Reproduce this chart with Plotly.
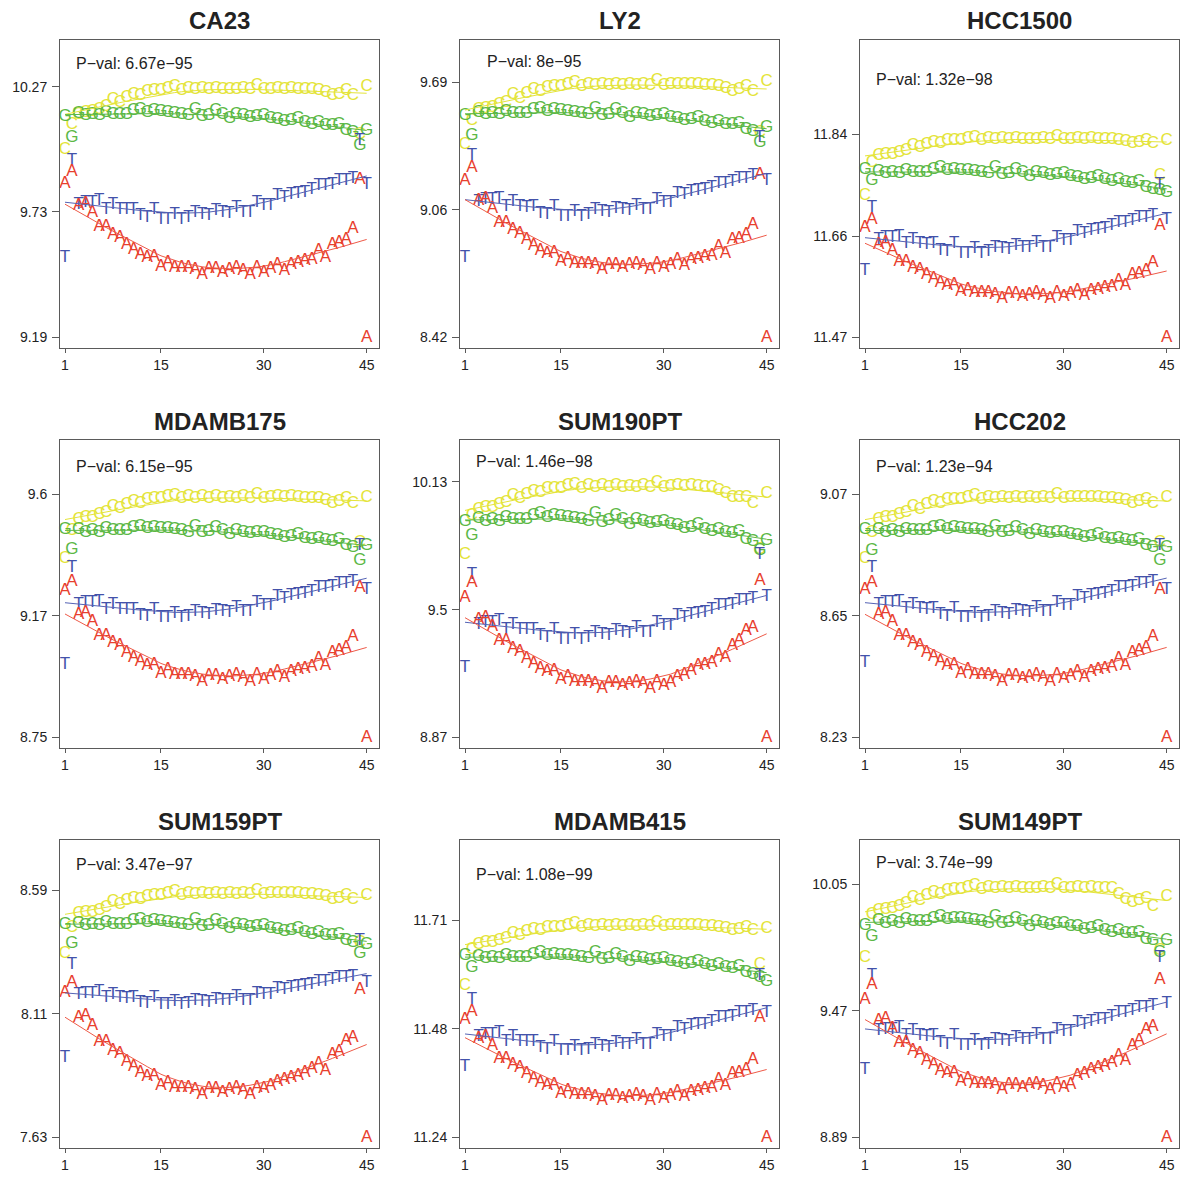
import numpy as np
import plotly.graph_objects as go

# ---------------- data ----------------
panel_names = ["CA23", "LY2", "HCC1500", "MDAMB175", "SUM190PT", "HCC202",
               "SUM159PT", "MDAMB415", "SUM149PT"]
p_values = ["6.67e\u221295", "8e\u221295", "1.32e\u221298", "6.15e\u221295", "1.46e\u221298",
            "1.23e\u221294", "3.47e\u221297", "1.08e\u221299", "3.74e\u221299"]
positions = list(range(1, 46))
x_tick_vals = [1, 15, 30, 45]
y_tick_vals = [[9.19, 9.73, 10.27], [8.42, 9.055, 9.69], [11.47, 11.655, 11.84],
               [8.75, 9.175, 9.6], [8.87, 9.5, 10.13], [8.23, 8.65, 9.07],
               [7.63, 8.11, 8.59], [11.24, 11.475, 11.71], [8.89, 9.47, 10.05]]
y_tick_text = [["9.19", "9.73", "10.27"], ["8.42", "9.06", "9.69"], ["11.47", "11.66", "11.84"],
               ["8.75", "9.17", "9.6"], ["8.87", "9.5", "10.13"], ["8.23", "8.65", "9.07"],
               ["7.63", "8.11", "8.59"], ["11.24", "11.48", "11.71"], ["8.89", "9.47", "10.05"]]

CA23_A = [9.852, 9.902, 9.758, 9.767, 9.726, 9.665, 9.665, 9.633, 9.619, 9.590, 9.568, 9.547, 9.532, 9.537, 9.496, 9.511, 9.489, 9.489, 9.489, 9.482, 9.460, 9.485, 9.485, 9.470, 9.482, 9.489, 9.479, 9.460, 9.489, 9.470, 9.485, 9.503, 9.479, 9.503, 9.511, 9.518, 9.525, 9.561, 9.532, 9.590, 9.597, 9.611, 9.657, 9.871, 9.190]
CA23_T = [9.532, 9.949, 9.762, 9.770, 9.770, 9.777, 9.741, 9.762, 9.741, 9.738, 9.741, 9.712, 9.705, 9.741, 9.698, 9.698, 9.719, 9.698, 9.705, 9.726, 9.719, 9.715, 9.734, 9.726, 9.724, 9.748, 9.726, 9.726, 9.770, 9.758, 9.758, 9.798, 9.791, 9.805, 9.810, 9.813, 9.824, 9.841, 9.841, 9.849, 9.863, 9.863, 9.873, 10.036, 9.849]
CA23_C = [10.000, 10.107, 10.151, 10.158, 10.161, 10.172, 10.184, 10.215, 10.201, 10.222, 10.237, 10.230, 10.247, 10.251, 10.251, 10.261, 10.270, 10.251, 10.261, 10.256, 10.261, 10.256, 10.261, 10.256, 10.258, 10.256, 10.261, 10.256, 10.276, 10.256, 10.258, 10.261, 10.258, 10.261, 10.258, 10.256, 10.256, 10.251, 10.244, 10.230, 10.237, 10.251, 10.230, 10.064, 10.270]
CA23_G = [10.142, 10.051, 10.155, 10.143, 10.151, 10.143, 10.158, 10.151, 10.151, 10.151, 10.165, 10.172, 10.158, 10.165, 10.161, 10.158, 10.155, 10.151, 10.143, 10.172, 10.141, 10.146, 10.165, 10.151, 10.132, 10.151, 10.143, 10.136, 10.141, 10.143, 10.132, 10.129, 10.118, 10.122, 10.132, 10.115, 10.107, 10.115, 10.103, 10.100, 10.107, 10.079, 10.071, 10.014, 10.079]

LY2_A = [9.197, 9.263, 9.097, 9.107, 9.061, 8.989, 8.989, 8.953, 8.936, 8.903, 8.878, 8.853, 8.837, 8.842, 8.795, 8.812, 8.787, 8.787, 8.787, 8.779, 8.754, 8.782, 8.782, 8.765, 8.779, 8.787, 8.775, 8.754, 8.787, 8.765, 8.782, 8.804, 8.775, 8.804, 8.812, 8.820, 8.828, 8.870, 8.837, 8.903, 8.911, 8.928, 8.981, 9.230, 8.420]
LY2_T = [8.815, 9.321, 9.094, 9.102, 9.102, 9.111, 9.069, 9.094, 9.069, 9.066, 9.069, 9.036, 9.028, 9.069, 9.019, 9.019, 9.044, 9.019, 9.028, 9.053, 9.044, 9.039, 9.061, 9.053, 9.049, 9.077, 9.053, 9.053, 9.102, 9.089, 9.089, 9.136, 9.127, 9.144, 9.149, 9.152, 9.165, 9.185, 9.185, 9.194, 9.210, 9.210, 9.222, 9.413, 9.197]
LY2_C = [9.379, 9.496, 9.550, 9.559, 9.562, 9.575, 9.589, 9.625, 9.609, 9.634, 9.650, 9.642, 9.662, 9.667, 9.667, 9.678, 9.688, 9.667, 9.678, 9.672, 9.678, 9.672, 9.678, 9.672, 9.675, 9.672, 9.678, 9.672, 9.695, 9.672, 9.675, 9.678, 9.675, 9.678, 9.675, 9.672, 9.672, 9.667, 9.658, 9.642, 9.650, 9.667, 9.642, 9.438, 9.690]
LY2_G = [9.521, 9.421, 9.539, 9.526, 9.534, 9.526, 9.542, 9.534, 9.534, 9.534, 9.551, 9.559, 9.542, 9.551, 9.546, 9.542, 9.539, 9.534, 9.526, 9.559, 9.522, 9.529, 9.551, 9.534, 9.512, 9.534, 9.526, 9.517, 9.522, 9.526, 9.512, 9.509, 9.496, 9.501, 9.512, 9.492, 9.484, 9.492, 9.479, 9.476, 9.484, 9.451, 9.443, 9.388, 9.462]

HCC1500_A = [11.670, 11.685, 11.639, 11.642, 11.629, 11.609, 11.609, 11.598, 11.593, 11.584, 11.577, 11.570, 11.565, 11.566, 11.553, 11.558, 11.551, 11.551, 11.551, 11.548, 11.541, 11.549, 11.549, 11.544, 11.548, 11.551, 11.547, 11.541, 11.551, 11.544, 11.549, 11.555, 11.547, 11.555, 11.558, 11.560, 11.562, 11.574, 11.565, 11.584, 11.586, 11.591, 11.606, 11.673, 11.470]
HCC1500_T = [11.591, 11.706, 11.648, 11.651, 11.651, 11.654, 11.640, 11.648, 11.640, 11.639, 11.640, 11.629, 11.626, 11.640, 11.623, 11.623, 11.632, 11.623, 11.626, 11.634, 11.632, 11.630, 11.637, 11.634, 11.633, 11.643, 11.634, 11.634, 11.651, 11.647, 11.647, 11.662, 11.660, 11.665, 11.667, 11.668, 11.673, 11.679, 11.679, 11.682, 11.688, 11.688, 11.692, 11.749, 11.685]
HCC1500_C = [11.728, 11.789, 11.801, 11.803, 11.803, 11.807, 11.810, 11.819, 11.815, 11.821, 11.825, 11.823, 11.828, 11.829, 11.829, 11.832, 11.834, 11.829, 11.832, 11.830, 11.832, 11.830, 11.832, 11.830, 11.831, 11.830, 11.832, 11.830, 11.836, 11.830, 11.831, 11.832, 11.831, 11.832, 11.831, 11.830, 11.830, 11.829, 11.827, 11.823, 11.825, 11.829, 11.823, 11.765, 11.828]
HCC1500_G = [11.776, 11.755, 11.772, 11.768, 11.770, 11.768, 11.773, 11.770, 11.770, 11.770, 11.776, 11.779, 11.773, 11.776, 11.774, 11.773, 11.772, 11.770, 11.768, 11.779, 11.767, 11.769, 11.776, 11.770, 11.763, 11.770, 11.768, 11.765, 11.767, 11.768, 11.763, 11.762, 11.758, 11.759, 11.763, 11.757, 11.754, 11.757, 11.752, 11.751, 11.754, 11.743, 11.740, 11.737, 11.734]

MDAMB175_A = [9.262, 9.293, 9.180, 9.187, 9.155, 9.106, 9.106, 9.081, 9.070, 9.047, 9.030, 9.013, 9.002, 9.005, 8.974, 8.985, 8.968, 8.968, 8.968, 8.962, 8.945, 8.965, 8.965, 8.953, 8.962, 8.968, 8.960, 8.945, 8.968, 8.953, 8.965, 8.979, 8.960, 8.979, 8.985, 8.991, 8.996, 9.025, 9.002, 9.047, 9.053, 9.064, 9.101, 9.273, 8.750]
MDAMB175_T = [9.005, 9.343, 9.214, 9.220, 9.220, 9.225, 9.198, 9.214, 9.198, 9.196, 9.198, 9.177, 9.172, 9.198, 9.167, 9.167, 9.183, 9.167, 9.172, 9.188, 9.183, 9.180, 9.193, 9.188, 9.186, 9.204, 9.188, 9.188, 9.220, 9.211, 9.211, 9.241, 9.235, 9.246, 9.249, 9.251, 9.259, 9.272, 9.272, 9.277, 9.288, 9.288, 9.295, 9.419, 9.267]
MDAMB175_C = [9.375, 9.472, 9.512, 9.517, 9.519, 9.527, 9.536, 9.558, 9.548, 9.563, 9.573, 9.568, 9.580, 9.583, 9.583, 9.590, 9.596, 9.583, 9.590, 9.586, 9.590, 9.586, 9.590, 9.586, 9.588, 9.586, 9.590, 9.586, 9.600, 9.586, 9.588, 9.590, 9.588, 9.590, 9.588, 9.586, 9.586, 9.583, 9.578, 9.568, 9.573, 9.583, 9.568, 9.431, 9.589]
MDAMB175_G = [9.475, 9.405, 9.476, 9.467, 9.473, 9.467, 9.478, 9.473, 9.473, 9.473, 9.483, 9.488, 9.478, 9.483, 9.480, 9.478, 9.476, 9.473, 9.467, 9.488, 9.465, 9.469, 9.483, 9.473, 9.459, 9.473, 9.467, 9.462, 9.465, 9.467, 9.459, 9.456, 9.448, 9.451, 9.459, 9.446, 9.441, 9.446, 9.437, 9.435, 9.441, 9.419, 9.414, 9.367, 9.419]

SUM190PT_A = [9.558, 9.633, 9.451, 9.461, 9.415, 9.344, 9.344, 9.308, 9.292, 9.259, 9.234, 9.209, 9.193, 9.198, 9.152, 9.168, 9.143, 9.143, 9.143, 9.135, 9.110, 9.138, 9.138, 9.122, 9.135, 9.143, 9.132, 9.110, 9.143, 9.122, 9.138, 9.171, 9.180, 9.196, 9.221, 9.229, 9.237, 9.278, 9.262, 9.320, 9.344, 9.394, 9.410, 9.644, 8.870]
SUM190PT_T = [9.213, 9.674, 9.427, 9.435, 9.435, 9.443, 9.402, 9.427, 9.402, 9.399, 9.402, 9.369, 9.361, 9.402, 9.353, 9.353, 9.377, 9.353, 9.361, 9.386, 9.377, 9.372, 9.394, 9.386, 9.382, 9.410, 9.386, 9.386, 9.435, 9.422, 9.422, 9.468, 9.460, 9.476, 9.481, 9.484, 9.498, 9.517, 9.517, 9.526, 9.542, 9.542, 9.554, 9.773, 9.563]
SUM190PT_C = [9.773, 9.962, 9.995, 10.002, 10.005, 10.017, 10.029, 10.061, 10.046, 10.069, 10.084, 10.076, 10.094, 10.098, 10.098, 10.109, 10.118, 10.098, 10.109, 10.103, 10.109, 10.103, 10.109, 10.103, 10.106, 10.103, 10.109, 10.103, 10.124, 10.103, 10.106, 10.109, 10.106, 10.109, 10.106, 10.103, 10.103, 10.086, 10.070, 10.050, 10.050, 10.050, 10.020, 9.797, 10.074]
SUM190PT_G = [9.932, 9.866, 9.950, 9.934, 9.944, 9.934, 9.953, 9.944, 9.944, 9.944, 9.963, 9.973, 9.953, 9.963, 9.957, 9.953, 9.950, 9.944, 9.934, 9.973, 9.930, 9.938, 9.963, 9.944, 9.918, 9.944, 9.934, 9.924, 9.930, 9.934, 9.918, 9.915, 9.899, 9.905, 9.918, 9.895, 9.885, 9.895, 9.880, 9.876, 9.885, 9.846, 9.837, 9.789, 9.838]

HCC202_A = [8.741, 8.764, 8.655, 8.661, 8.630, 8.582, 8.582, 8.557, 8.546, 8.524, 8.507, 8.490, 8.479, 8.482, 8.451, 8.462, 8.445, 8.445, 8.445, 8.440, 8.423, 8.442, 8.442, 8.431, 8.440, 8.445, 8.437, 8.423, 8.445, 8.431, 8.442, 8.456, 8.437, 8.456, 8.462, 8.468, 8.473, 8.501, 8.479, 8.524, 8.529, 8.540, 8.576, 8.741, 8.230]
HCC202_T = [8.487, 8.816, 8.689, 8.694, 8.694, 8.699, 8.673, 8.689, 8.673, 8.671, 8.673, 8.653, 8.647, 8.673, 8.642, 8.642, 8.658, 8.642, 8.647, 8.663, 8.658, 8.655, 8.668, 8.663, 8.661, 8.679, 8.663, 8.663, 8.694, 8.686, 8.686, 8.715, 8.710, 8.720, 8.723, 8.725, 8.734, 8.746, 8.746, 8.751, 8.762, 8.762, 8.769, 8.891, 8.741]
HCC202_C = [8.847, 8.937, 8.983, 8.988, 8.990, 8.998, 9.006, 9.028, 9.018, 9.033, 9.043, 9.038, 9.050, 9.053, 9.053, 9.060, 9.066, 9.053, 9.060, 9.056, 9.060, 9.056, 9.060, 9.056, 9.058, 9.056, 9.060, 9.056, 9.070, 9.056, 9.058, 9.060, 9.058, 9.060, 9.058, 9.056, 9.056, 9.053, 9.048, 9.038, 9.043, 9.053, 9.038, 8.903, 9.059]
HCC202_G = [8.947, 8.874, 8.947, 8.938, 8.944, 8.938, 8.949, 8.944, 8.944, 8.944, 8.954, 8.959, 8.949, 8.954, 8.951, 8.949, 8.947, 8.944, 8.938, 8.959, 8.936, 8.941, 8.954, 8.944, 8.930, 8.944, 8.938, 8.933, 8.936, 8.938, 8.930, 8.928, 8.920, 8.923, 8.930, 8.917, 8.912, 8.917, 8.909, 8.907, 8.912, 8.891, 8.886, 8.839, 8.886]

SUM159PT_A = [8.191, 8.230, 8.094, 8.103, 8.062, 8.000, 8.000, 7.968, 7.953, 7.924, 7.903, 7.881, 7.866, 7.871, 7.830, 7.844, 7.823, 7.823, 7.823, 7.815, 7.794, 7.818, 7.818, 7.804, 7.815, 7.823, 7.812, 7.794, 7.823, 7.820, 7.830, 7.845, 7.855, 7.860, 7.870, 7.880, 7.895, 7.915, 7.890, 7.950, 7.962, 8.005, 8.015, 8.204, 7.630]
SUM159PT_T = [7.938, 8.301, 8.185, 8.189, 8.189, 8.194, 8.171, 8.185, 8.171, 8.169, 8.171, 8.152, 8.148, 8.171, 8.143, 8.143, 8.157, 8.143, 8.148, 8.162, 8.157, 8.154, 8.166, 8.162, 8.160, 8.175, 8.162, 8.162, 8.189, 8.182, 8.182, 8.208, 8.203, 8.212, 8.215, 8.217, 8.224, 8.235, 8.235, 8.240, 8.249, 8.249, 8.255, 8.392, 8.230]
SUM159PT_C = [8.344, 8.444, 8.496, 8.501, 8.503, 8.511, 8.520, 8.543, 8.532, 8.548, 8.558, 8.553, 8.565, 8.568, 8.568, 8.576, 8.582, 8.568, 8.576, 8.572, 8.576, 8.572, 8.576, 8.572, 8.574, 8.572, 8.576, 8.572, 8.586, 8.572, 8.574, 8.576, 8.574, 8.576, 8.574, 8.572, 8.572, 8.568, 8.563, 8.553, 8.558, 8.568, 8.553, 8.386, 8.567]
SUM159PT_G = [8.457, 8.383, 8.461, 8.450, 8.457, 8.450, 8.463, 8.457, 8.457, 8.457, 8.470, 8.476, 8.463, 8.470, 8.466, 8.463, 8.461, 8.457, 8.450, 8.476, 8.448, 8.453, 8.470, 8.457, 8.440, 8.457, 8.450, 8.444, 8.448, 8.450, 8.440, 8.437, 8.427, 8.431, 8.440, 8.424, 8.418, 8.424, 8.414, 8.411, 8.418, 8.392, 8.385, 8.344, 8.379]

MDAMB415_A = [11.495, 11.513, 11.453, 11.457, 11.439, 11.411, 11.411, 11.397, 11.390, 11.377, 11.368, 11.358, 11.351, 11.353, 11.335, 11.342, 11.332, 11.332, 11.332, 11.329, 11.319, 11.330, 11.330, 11.323, 11.329, 11.332, 11.327, 11.319, 11.332, 11.323, 11.330, 11.338, 11.327, 11.338, 11.342, 11.345, 11.348, 11.364, 11.351, 11.377, 11.380, 11.387, 11.408, 11.499, 11.240]
MDAMB415_T = [11.394, 11.539, 11.459, 11.463, 11.463, 11.466, 11.448, 11.459, 11.448, 11.447, 11.448, 11.434, 11.430, 11.448, 11.427, 11.427, 11.437, 11.427, 11.430, 11.441, 11.437, 11.435, 11.445, 11.441, 11.440, 11.452, 11.441, 11.441, 11.463, 11.457, 11.457, 11.477, 11.473, 11.481, 11.483, 11.484, 11.490, 11.499, 11.499, 11.502, 11.510, 11.510, 11.515, 11.589, 11.510]
MDAMB415_C = [11.568, 11.647, 11.658, 11.661, 11.662, 11.666, 11.670, 11.682, 11.677, 11.685, 11.690, 11.687, 11.694, 11.695, 11.695, 11.699, 11.702, 11.695, 11.699, 11.697, 11.699, 11.697, 11.699, 11.697, 11.698, 11.697, 11.699, 11.697, 11.704, 11.697, 11.698, 11.699, 11.698, 11.699, 11.698, 11.697, 11.697, 11.695, 11.692, 11.687, 11.690, 11.695, 11.687, 11.613, 11.692]
MDAMB415_G = [11.633, 11.607, 11.631, 11.626, 11.629, 11.626, 11.633, 11.629, 11.629, 11.629, 11.636, 11.639, 11.633, 11.636, 11.634, 11.633, 11.631, 11.629, 11.626, 11.639, 11.625, 11.627, 11.636, 11.629, 11.621, 11.629, 11.626, 11.623, 11.625, 11.626, 11.621, 11.619, 11.614, 11.616, 11.621, 11.613, 11.610, 11.613, 11.608, 11.606, 11.610, 11.597, 11.593, 11.586, 11.578]

SUM149PT_A = [9.522, 9.591, 9.423, 9.432, 9.389, 9.323, 9.323, 9.289, 9.274, 9.243, 9.221, 9.197, 9.182, 9.187, 9.144, 9.159, 9.136, 9.136, 9.136, 9.129, 9.106, 9.132, 9.132, 9.116, 9.129, 9.136, 9.126, 9.106, 9.136, 9.116, 9.132, 9.170, 9.180, 9.200, 9.210, 9.220, 9.231, 9.265, 9.239, 9.311, 9.331, 9.384, 9.399, 9.614, 8.890]
SUM149PT_T = [9.201, 9.629, 9.377, 9.384, 9.384, 9.392, 9.354, 9.377, 9.354, 9.351, 9.354, 9.323, 9.315, 9.354, 9.308, 9.308, 9.331, 9.308, 9.315, 9.338, 9.331, 9.326, 9.346, 9.338, 9.335, 9.361, 9.338, 9.338, 9.384, 9.372, 9.372, 9.415, 9.407, 9.422, 9.427, 9.430, 9.442, 9.461, 9.461, 9.468, 9.484, 9.484, 9.494, 9.713, 9.504]
SUM149PT_C = [9.713, 9.912, 9.927, 9.934, 9.937, 9.948, 9.959, 9.989, 9.976, 9.996, 10.010, 10.003, 10.020, 10.024, 10.024, 10.033, 10.042, 10.024, 10.033, 10.028, 10.033, 10.028, 10.033, 10.028, 10.031, 10.028, 10.033, 10.028, 10.047, 10.028, 10.031, 10.033, 10.031, 10.033, 10.031, 10.028, 10.028, 10.000, 9.980, 9.966, 9.973, 9.984, 9.947, 9.744, 9.993]
SUM149PT_G = [9.858, 9.810, 9.883, 9.870, 9.878, 9.870, 9.886, 9.878, 9.878, 9.878, 9.894, 9.902, 9.886, 9.894, 9.890, 9.886, 9.883, 9.878, 9.870, 9.902, 9.867, 9.873, 9.894, 9.878, 9.857, 9.878, 9.870, 9.862, 9.867, 9.870, 9.857, 9.854, 9.841, 9.846, 9.857, 9.838, 9.830, 9.838, 9.825, 9.822, 9.830, 9.798, 9.790, 9.736, 9.790]

series_values = {
    "CA23": {"A": CA23_A, "C": CA23_C, "G": CA23_G, "T": CA23_T},
    "LY2": {"A": LY2_A, "C": LY2_C, "G": LY2_G, "T": LY2_T},
    "HCC1500": {"A": HCC1500_A, "C": HCC1500_C, "G": HCC1500_G, "T": HCC1500_T},
    "MDAMB175": {"A": MDAMB175_A, "C": MDAMB175_C, "G": MDAMB175_G, "T": MDAMB175_T},
    "SUM190PT": {"A": SUM190PT_A, "C": SUM190PT_C, "G": SUM190PT_G, "T": SUM190PT_T},
    "HCC202": {"A": HCC202_A, "C": HCC202_C, "G": HCC202_G, "T": HCC202_T},
    "SUM159PT": {"A": SUM159PT_A, "C": SUM159PT_C, "G": SUM159PT_G, "T": SUM159PT_T},
    "MDAMB415": {"A": MDAMB415_A, "C": MDAMB415_C, "G": MDAMB415_G, "T": MDAMB415_T},
    "SUM149PT": {"A": SUM149PT_A, "C": SUM149PT_C, "G": SUM149PT_G, "T": SUM149PT_T},
}

# ---------------- layout settings ----------------
y_ranges = [[9.144, 10.471], [8.367, 9.899], [11.451, 12.012], [8.713, 9.790],
            [8.817, 10.337], [8.193, 9.258], [7.589, 8.784], [11.217, 11.884],
            [8.841, 10.253]]
pval_offsets_px = [23, 22, 39, 26, 21, 26, 24, 34, 22]
x_range = [0.27, 46.8]

colors = {"A": "#E8402E", "C": "#E4E43A", "G": "#5CB846", "T": "#4352AA"}
line_colors = {"A": "#EE5A48", "C": "#E4E43A", "G": "#5CB846", "T": "#5563B5"}
FONT = "Liberation Sans, Arial, Helvetica, sans-serif"
W = H = 1200


def lowess(x, y, f=2 / 3, iters=3):
    x = np.asarray(x, float)
    y = np.asarray(y, float)
    n = len(x)
    r = max(min(int(round(f * n)), n), 2)
    robust = np.ones(n)
    fit = np.zeros(n)
    for it in range(iters + 1):
        for i in range(n):
            d = np.abs(x - x[i])
            h = np.sort(d)[r - 1]
            u = np.clip(d / h, 0, 1)
            w = (1 - u ** 3) ** 3 * robust
            sw = w.sum()
            xm = (w * x).sum() / sw
            ym = (w * y).sum() / sw
            sxx = (w * (x - xm) ** 2).sum()
            b = (w * (x - xm) * (y - ym)).sum() / sxx if sxx > 0 else 0.0
            fit[i] = ym + b * (x[i] - xm)
        if it < iters:
            res = y - fit
            s = np.median(np.abs(res))
            if s == 0:
                break
            u = np.clip(res / (6 * s), -1, 1)
            robust = (1 - u ** 2) ** 2
    return fit


fig = go.Figure()
annotations = []
layout_axes = {}

for k, name in enumerate(panel_names):
    r, c = divmod(k, 3)
    idx = "" if k == 0 else str(k + 1)
    xa, ya = "x" + idx, "y" + idx
    left, right = 60 + 400 * c, 379 + 400 * c
    top, bottom = 40 + 400 * r, 348 + 400 * r
    xdom = [left / W, right / W]
    ydom = [1 - bottom / H, 1 - top / H]

    data = series_values[name]
    for base in ["C", "G", "T", "A"]:
        vals = data[base]
        fig.add_trace(go.Scatter(
            x=positions, y=vals, mode="text", text=[base] * len(vals),
            textposition="middle center",
            textfont=dict(family=FONT, size=17, color=colors[base]),
            xaxis=xa, yaxis=ya, hoverinfo="skip", showlegend=False,
            cliponaxis=False))
    for base in ["C", "G", "T", "A"]:
        vals = data[base]
        fit = lowess(positions, vals)
        fig.add_trace(go.Scatter(
            x=positions, y=fit, mode="lines",
            line=dict(color=line_colors[base], width=1),
            xaxis=xa, yaxis=ya, hoverinfo="skip", showlegend=False))

    axis_common = dict(showgrid=False, zeroline=False, showline=True, mirror=True,
                       linecolor="#5a5a5a", linewidth=1, ticks="outside",
                       tickcolor="#5a5a5a", tickwidth=1,
                       tickfont=dict(family=FONT, size=14, color="#222222"))
    layout_axes["xaxis" + idx] = dict(axis_common, domain=xdom, range=x_range,
                                      tickmode="array", tickvals=x_tick_vals,
                                      ticktext=[str(v) for v in x_tick_vals],
                                      anchor=ya, ticklen=4, ticklabelstandoff=0)
    layout_axes["yaxis" + idx] = dict(axis_common, domain=ydom, range=y_ranges[k],
                                      tickmode="array", tickvals=y_tick_vals[k],
                                      ticktext=y_tick_text[k], anchor=xa,
                                      ticklen=7, ticklabelstandoff=2)

    annotations.append(dict(
        text="<b>" + name + "</b>", xref="paper", yref="paper",
        x=(left + right) / 2 / W, y=1 - (21 + 400 * r) / H,
        xanchor="center", yanchor="middle", showarrow=False,
        font=dict(family=FONT, size=24, color="#222222")))
    annotations.append(dict(
        text="P\u2212val: " + p_values[k], xref=xa + " domain", yref=ya + " domain",
        x=74 / 319, y=1 - pval_offsets_px[k] / 308,
        xanchor="center", yanchor="middle", showarrow=False,
        font=dict(family=FONT, size=16, color="#222222")))

fig.update_layout(
    width=W, height=H, margin=dict(l=0, r=0, t=0, b=0),
    paper_bgcolor="white", plot_bgcolor="white",
    showlegend=False, annotations=annotations, **layout_axes)

fig.write_html("out.html", config={"displayModeBar": False},
               post_script="document.body.style.margin='0';")
